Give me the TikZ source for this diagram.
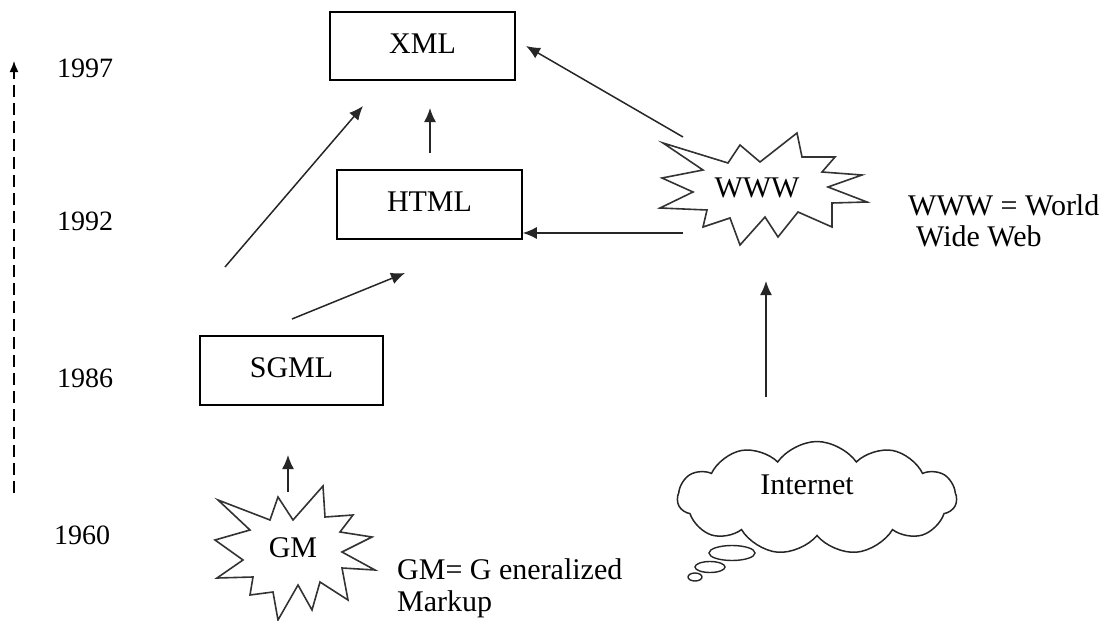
\documentclass[tikz,border=0pt]{standalone}
\usepackage{fontspec}
\setmainfont{Liberation Serif}
\usetikzlibrary{arrows.meta,shapes.symbols}
\newcommand{\boxlbl}[1]{\raisebox{5pt}{#1}}
\begin{document}
\begin{tikzpicture}[x=1pt,y=-1pt,
  every node/.style={font=\fontsize{30}{36}\selectfont},
  box/.style={draw, line width=1.5pt, minimum width=185pt, minimum height=68pt, inner sep=0pt},
  arr/.style={line width=1.5pt, draw=black!85, -{Latex[length=14pt,width=12pt]}},
  burst/.style={draw=black!80, line width=1.6pt, line join=miter, fill=white},
  txt/.style={inner sep=0pt, anchor=west},
  yr/.style={inner sep=0pt, font=\fontsize{28}{34}\selectfont}]
\useasboundingbox (0,0) rectangle (1120,621);

% timeline
\coordinate (tlBottom) at (14,493);
\coordinate (tlTop) at (14,61);
\draw[line width=1.5pt, dash pattern=on 12pt off 6pt, -{Latex[length=11pt,width=9pt]}] (tlBottom) -- (tlTop);
\node[yr] (y1997) at (85,68) {1997};
\node[yr] (y1992) at (85,221) {1992};
\node[yr] (y1986) at (85,378) {1986};
\node[yr] (y1960) at (82,535) {1960};

% boxes
\node[box] (xml) at (422.5,46) {\boxlbl{XML}};
\node[box, minimum height=69pt] (html) at (429.5,204.5) {\boxlbl{HTML}};
\node[box, minimum width=183pt, minimum height=69pt] (sgml) at (291.5,370.5) {\boxlbl{SGML}};

% WWW starburst
\draw[burst] (663,143) -- (728,163) -- (740,145) -- (760,162) -- (797,133) -- (802,157)
  -- (835,157) -- (822,172) -- (862,175) -- (828,187) -- (867,202) -- (832,203)
  -- (832,227) -- (798,212) -- (778,237) -- (765,217) -- (740,245) -- (730,218)
  -- (703,227) -- (707,210) -- (660,208) -- (693,192) -- (662,178) -- (703,170) -- cycle;
\node[inner sep=0pt] (www) at (757,188) {WWW};
\node[txt] (wwwdef1) at (908,205) {WWW = World};
\node[txt] (wwwdef2) at (916,236) {Wide Web};

% GM starburst
\draw[burst] (218,500) -- (270,520) -- (278,497) -- (293,520) -- (323,486) -- (325,517)
  -- (353,515) -- (340,532) -- (372,537) -- (342,552) -- (375,570) -- (342,568)
  -- (348,600) -- (320,582) -- (312,610) -- (298,585) -- (278,620) -- (273,592)
  -- (250,595) -- (253,577) -- (217,578) -- (243,560) -- (215,540) -- (250,530) -- cycle;
\node[inner sep=0pt] (gm) at (293,548) {GM};
\node[txt] (gmdef1) at (397,569) {GM= G eneralized};
\node[txt] (gmdef2) at (397,604) {Markup};

% Internet cloud
\draw[line width=1.4pt, draw=black!85, fill=white] (695,577) ellipse (7 and 4);
\draw[line width=1.4pt, draw=black!85, fill=white] (710,567) ellipse (15 and 5.5);
\draw[line width=1.4pt, draw=black!85, fill=white] (732,553) ellipse (23 and 7.5);
\node[cloud, draw=black!85, fill=white, line width=1.5pt, cloud puffs=11, cloud puff arc=110,
  aspect=2.5, minimum width=279pt, minimum height=113pt, inner sep=0pt] (internet) at (817,498) {};
\node[inner sep=0pt] (internetLabel) at (807,485) {Internet};

% connectors
\coordinate (gmTop) at (288,492);
\coordinate (sgmlBelow) at (288,455);
\draw[arr] (gmTop) -- (sgmlBelow);
\coordinate (sgmlOut) at (292,319);
\coordinate (htmlIn) at (405,273);
\draw[arr] (sgmlOut) -- (htmlIn);
\coordinate (sgmlUp) at (225,267);
\coordinate (xmlInL) at (363,106);
\draw[arr] (sgmlUp) -- (xmlInL);
\coordinate (htmlTop) at (430,153);
\coordinate (xmlInB) at (430,108);
\draw[arr] (htmlTop) -- (xmlInB);
\coordinate (wwwOutA) at (683,137);
\coordinate (xmlInR) at (526,46);
\draw[arr] (wwwOutA) -- (xmlInR);
\coordinate (wwwOutB) at (683,233);
\draw[arr] (wwwOutB) -- (html.east |- wwwOutB);
\coordinate (internetTop) at (766,397);
\coordinate (wwwBelow) at (766,281);
\draw[arr] (internetTop) -- (wwwBelow);
\end{tikzpicture}
\end{document}
